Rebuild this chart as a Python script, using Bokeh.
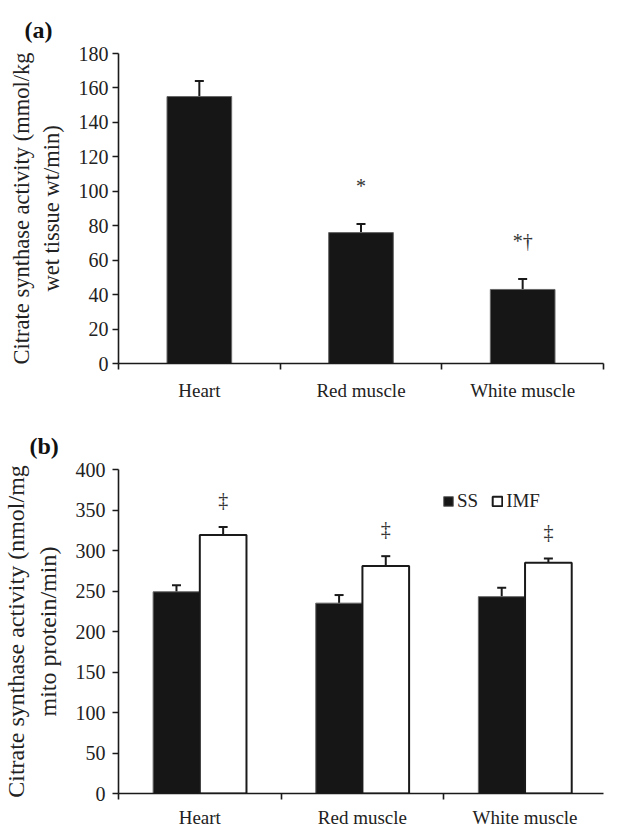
from bokeh.plotting import figure
from bokeh.layouts import column
from bokeh.models import Range1d, FixedTicker, Whisker, TeeHead, ColumnDataSource, Legend, LegendItem
from bokeh.core.properties import value
from bokeh.embed import file_html
from bokeh.resources import INLINE

# ---------------- data ----------------
cats = ["Heart", "Red muscle", "White muscle"]
a_mean = [155, 76, 43]
a_err = [9, 5, 6]
a_marks = ["", "*", "*\u2020"]

ss_mean = [249, 235, 243]
ss_err = [8, 10, 11]
imf_mean = [319, 281, 285]
imf_err = [10, 12, 5]
b_marks = ["\u2021", "\u2021", "\u2021"]

a_yticks = [0, 20, 40, 60, 80, 100, 120, 140, 160, 180]
b_yticks = [0, 50, 100, 150, 200, 250, 300, 350, 400]

FONT = "Liberation Serif"
INK = "#1a1a1a"
BAR = "#161616"


def style(p, ylabel, ysize, tick_standoff, xlab_standoff, title_size):
    p.xgrid.visible = False
    p.ygrid.visible = False
    p.outline_line_color = None
    p.background_fill_color = "white"
    p.border_fill_color = "white"
    for ax in (p.xaxis[0], p.yaxis[0]):
        ax.axis_line_color = INK
        ax.axis_line_width = 1.6
        ax.major_label_text_font = FONT
        ax.major_label_text_color = "#222222"
    ya = p.yaxis[0]
    ya.major_tick_out = 6
    ya.major_tick_in = 0
    ya.major_tick_line_width = 1.6
    ya.major_tick_line_color = INK
    ya.minor_tick_line_color = None
    ya.major_label_text_font_size = "20px"
    ya.major_label_standoff = tick_standoff
    ya.axis_label = ylabel
    ya.axis_label_text_font = FONT
    ya.axis_label_text_font_size = ysize
    ya.axis_label_text_font_style = "normal"
    ya.axis_label_text_color = "#222222"
    ya.axis_label_standoff = 12
    xa = p.xaxis[0]
    xa.major_tick_out = 0
    xa.major_tick_in = 0
    xa.major_tick_line_color = None
    xa.minor_tick_out = 6
    xa.minor_tick_in = 0
    xa.minor_tick_line_width = 1.6
    xa.minor_tick_line_color = INK
    xa.major_label_text_font_size = "19px"
    xa.major_label_standoff = xlab_standoff
    p.title.text_font = FONT
    p.title.text_font_size = title_size
    p.title.text_font_style = "bold"
    p.title.text_color = "#111111"
    p.title.align = "left"


centers = [i + 0.5 for i in range(len(cats))]
xlabels = {c: n for c, n in zip(centers, cats)}

# ---------------- panel (a) ----------------
pa = figure(width=620, height=413, output_backend="svg", toolbar_location=None,
            x_range=Range1d(0, 3), y_range=Range1d(0, 180), title="(a)",
            min_border_left=116, min_border_right=17, min_border_top=53, min_border_bottom=50)
style(pa, "Citrate synthase activity (mmol/kg\nwet tissue wt/min)", "22.5px", 4, 10, "24px")
pa.title.offset = -94
pa.title.standoff = 22
pa.xaxis[0].ticker = FixedTicker(ticks=centers, minor_ticks=list(range(len(cats) + 1)))
pa.xaxis[0].major_label_overrides = xlabels
pa.yaxis[0].ticker = FixedTicker(ticks=a_yticks, minor_ticks=[])

src_a = ColumnDataSource(dict(x=centers, top=a_mean,
                              up=[m + e for m, e in zip(a_mean, a_err)],
                              mark=a_marks,
                              my=[m + e + 22 for m, e in zip(a_mean, a_err)]))
pa.vbar(x="x", top="top", bottom=0, width=0.4, source=src_a,
        fill_color=BAR, line_color="#666666", line_width=1)
pa.add_layout(Whisker(base="x", upper="up", lower="top", source=src_a,
                      line_color=INK, line_width=2,
                      upper_head=TeeHead(size=9, line_width=2, line_color=INK),
                      lower_head=None))
pa.text(x="x", y="my", text="mark", source=src_a, text_align="center",
        text_baseline="middle", text_font=value(FONT), text_font_size="20px",
        text_color="#333333")

# ---------------- panel (b) ----------------
bw = 0.287
pb = figure(width=620, height=417, output_backend="svg", toolbar_location=None,
            x_range=Range1d(0, 510 / 171), y_range=Range1d(0, 400), title="(b)",
            min_border_left=110, min_border_right=0, min_border_top=56, min_border_bottom=36)
style(pb, "Citrate synthase activity (nmol/mg\nmito protein/min)", "24px", 7, 7, "24px")
pb.title.offset = -89
pb.title.standoff = 22
pb.xaxis[0].ticker = FixedTicker(ticks=centers, minor_ticks=list(range(len(cats) + 1)))
pb.xaxis[0].major_label_overrides = xlabels
pb.yaxis[0].ticker = FixedTicker(ticks=b_yticks, minor_ticks=[])

src_ss = ColumnDataSource(dict(x=[c - bw / 2 for c in centers], top=ss_mean,
                               up=[m + e for m, e in zip(ss_mean, ss_err)]))
src_imf = ColumnDataSource(dict(x=[c + bw / 2 for c in centers], top=imf_mean,
                                up=[m + e for m, e in zip(imf_mean, imf_err)],
                                mark=b_marks,
                                my=[m + e + 33 for m, e in zip(imf_mean, imf_err)]))
r_ss = pb.vbar(x="x", top="top", bottom=0, width=bw, source=src_ss,
               fill_color=BAR, line_color="#666666", line_width=1)
r_imf = pb.vbar(x="x", top="top", bottom=0, width=bw, source=src_imf,
                fill_color="white", line_color=INK, line_width=2)
for s in (src_ss, src_imf):
    pb.add_layout(Whisker(base="x", upper="up", lower="top", source=s,
                          line_color=INK, line_width=2,
                          upper_head=TeeHead(size=9, line_width=2, line_color=INK),
                          lower_head=None))
pb.text(x="x", y="my", text="mark", source=src_imf, text_align="center",
        text_baseline="middle", text_font=value(FONT), text_font_size="20px",
        text_color="#333333")

leg = Legend(items=[LegendItem(label="SS", renderers=[r_ss]),
                    LegendItem(label="IMF", renderers=[r_imf])],
             orientation="horizontal", location=(324, 281),
             glyph_width=12, glyph_height=12, label_standoff=3, spacing=13,
             padding=0, margin=0, label_height=20,
             label_text_font=FONT, label_text_font_size="19px",
             label_text_color="#222222",
             border_line_alpha=0, background_fill_alpha=0)
pb.add_layout(leg, "center")

layout = column(pa, pb, spacing=0)
open("out.html", "w").write(file_html(layout, INLINE))
